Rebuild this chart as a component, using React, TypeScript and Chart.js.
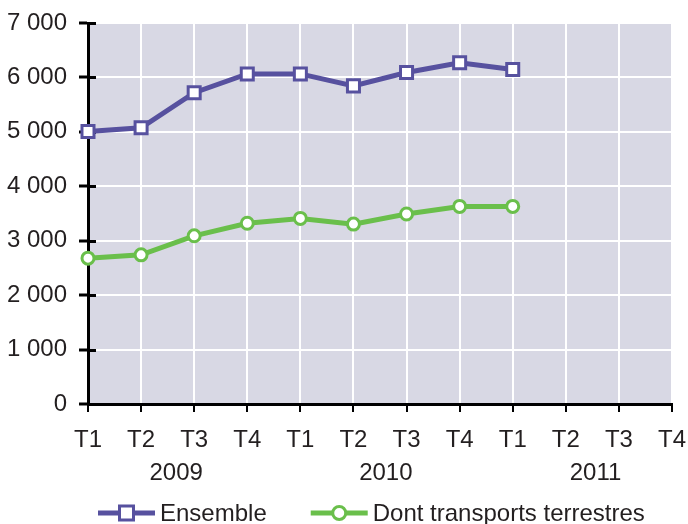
import React, { useEffect, useRef } from 'react';
import { Chart, registerables } from 'chart.js';

Chart.register(...registerables);

const quarters = ['T1', 'T2', 'T3', 'T4', 'T1', 'T2', 'T3', 'T4', 'T1', 'T2', 'T3', 'T4'];
const years = ['2009', '2010', '2011'];
const ensemble = [5005, 5075, 5720, 6065, 6065, 5845, 6090, 6270, 6145];
const terrestres = [2680, 2740, 3090, 3320, 3410, 3305, 3490, 3630, 3630];
const seriesNames = ['Ensemble', 'Dont transports terrestres'];
const yMin = 0;
const yMax = 7000;
const yStep = 1000;

const PURPLE = '#57519f';
const GREEN = '#6abf4b';
const TEXT = '#231f20';
const FONT = '"Liberation Sans", Arial, sans-serif';
const BG = '#d8d8e4';

const fmt = (v: number) => String(v).replace(/\B(?=(\d{3})+(?!\d))/g, ' ');

const customPlugin = {
  id: 'custom',
  beforeDraw(chart: any) {
    const { ctx, chartArea } = chart;
    ctx.save();
    ctx.fillStyle = BG;
    ctx.fillRect(chartArea.left, chartArea.top, chartArea.right - chartArea.left, chartArea.bottom - chartArea.top);
    ctx.restore();
  },
  beforeDatasetsDraw(chart: any) {
    const { ctx, chartArea } = chart;
    const y = chart.scales.y;
    ctx.save();
    ctx.strokeStyle = '#000';
    ctx.lineWidth = 3;
    for (const t of y.ticks) {
      const py = Math.round(y.getPixelForValue(t.value)) + 0.5;
      ctx.beginPath();
      ctx.moveTo(chartArea.left, py);
      ctx.lineTo(chartArea.left + 8, py);
      ctx.stroke();
    }
    ctx.restore();
  },
  afterDraw(chart: any) {
    const { ctx, chartArea } = chart;
    const x = chart.scales.x;
    ctx.save();
    ctx.fillStyle = TEXT;
    ctx.font = `24px ${FONT}`;
    ctx.textAlign = 'center';
    ctx.textBaseline = 'middle';
    years.forEach((yr, i) => {
      const px = x.getPixelForValue(3.95 * i + 1.66);
      ctx.fillText(yr, px, 473);
    });
    // legend
    const ly = 513;
    let lx = chartArea.left + 10;
    const colors = [PURPLE, GREEN];
    seriesNames.forEach((name, i) => {
      ctx.strokeStyle = colors[i];
      ctx.lineWidth = 5;
      ctx.beginPath();
      ctx.moveTo(lx, ly);
      ctx.lineTo(lx + 57, ly);
      ctx.stroke();
      const cx = lx + 28.5;
      ctx.fillStyle = '#fff';
      ctx.lineWidth = 3;
      ctx.beginPath();
      if (i === 0) {
        ctx.rect(cx - 7, ly - 7, 14, 14);
      } else {
        ctx.arc(cx, ly, 6.5, 0, Math.PI * 2);
      }
      ctx.fill();
      ctx.stroke();
      ctx.fillStyle = TEXT;
      ctx.textAlign = 'left';
      ctx.fillText(name, lx + 62, ly + 1.5);
      lx += 62 + ctx.measureText(name).width + 44;
    });
    ctx.restore();
  },
};

const zeroPad = (s: any) => {
  s.paddingLeft = 0;
  s.paddingRight = 0;
  s.paddingTop = 0;
  s.paddingBottom = 0;
};

export default function App() {
  const ref = useRef<HTMLCanvasElement>(null);
  useEffect(() => {
    if (!ref.current) return;
    const chart = new Chart(ref.current, {
      type: 'line',
      data: {
        labels: quarters,
        datasets: [
          {
            label: seriesNames[0],
            data: ensemble,
            borderColor: PURPLE,
            backgroundColor: '#fff',
            borderWidth: 5,
            pointStyle: 'rect',
            pointRadius: 8.5,
            pointBorderWidth: 3,
            pointBorderColor: PURPLE,
            pointBackgroundColor: '#fff',
            tension: 0,
          },
          {
            label: seriesNames[1],
            data: terrestres,
            borderColor: GREEN,
            backgroundColor: '#fff',
            borderWidth: 5,
            pointStyle: 'circle',
            pointRadius: 6,
            pointBorderWidth: 3,
            pointBorderColor: GREEN,
            pointBackgroundColor: '#fff',
            tension: 0,
          },
        ],
      },
      options: {
        responsive: true,
        maintainAspectRatio: false,
        animation: false,
        layout: { padding: { top: 23, right: 16, left: 0, bottom: 0 } },
        plugins: {
          legend: { display: false },
          tooltip: { enabled: false },
        },
        scales: {
          x: {
            offset: false,
            grid: {
              color: '#ffffff',
              lineWidth: 2,
              tickColor: '#000',
              tickLength: 8,
              tickWidth: 2,
            },
            border: { color: '#000', width: 3 },
            ticks: {
              color: TEXT,
              font: { family: FONT, size: 24 },
              padding: 14,
              maxRotation: 0,
              autoSkip: false,
            },
            afterFit: (s: any) => { s.height = 120; zeroPad(s); },
          },
          y: {
            min: yMin,
            max: yMax,
            grid: {
              color: '#ffffff',
              lineWidth: 2,
              tickColor: '#000',
              tickLength: 9,
              tickWidth: 3,
            },
            border: { color: '#000', width: 3 },
            ticks: {
              stepSize: yStep,
              color: TEXT,
              font: { family: FONT, size: 24 },
              padding: 12,
              callback: (v: any) => fmt(Number(v)),
            },
            afterFit: (s: any) => { s.width = 88; zeroPad(s); },
          },
        },
      },
      plugins: [customPlugin],
    });
    return () => chart.destroy();
  }, []);
  return (
    <div style={{ position: 'fixed', left: 0, top: 0, width: 688, height: 524, background: '#fff' }}>
      <canvas ref={ref} />
    </div>
  );
}
